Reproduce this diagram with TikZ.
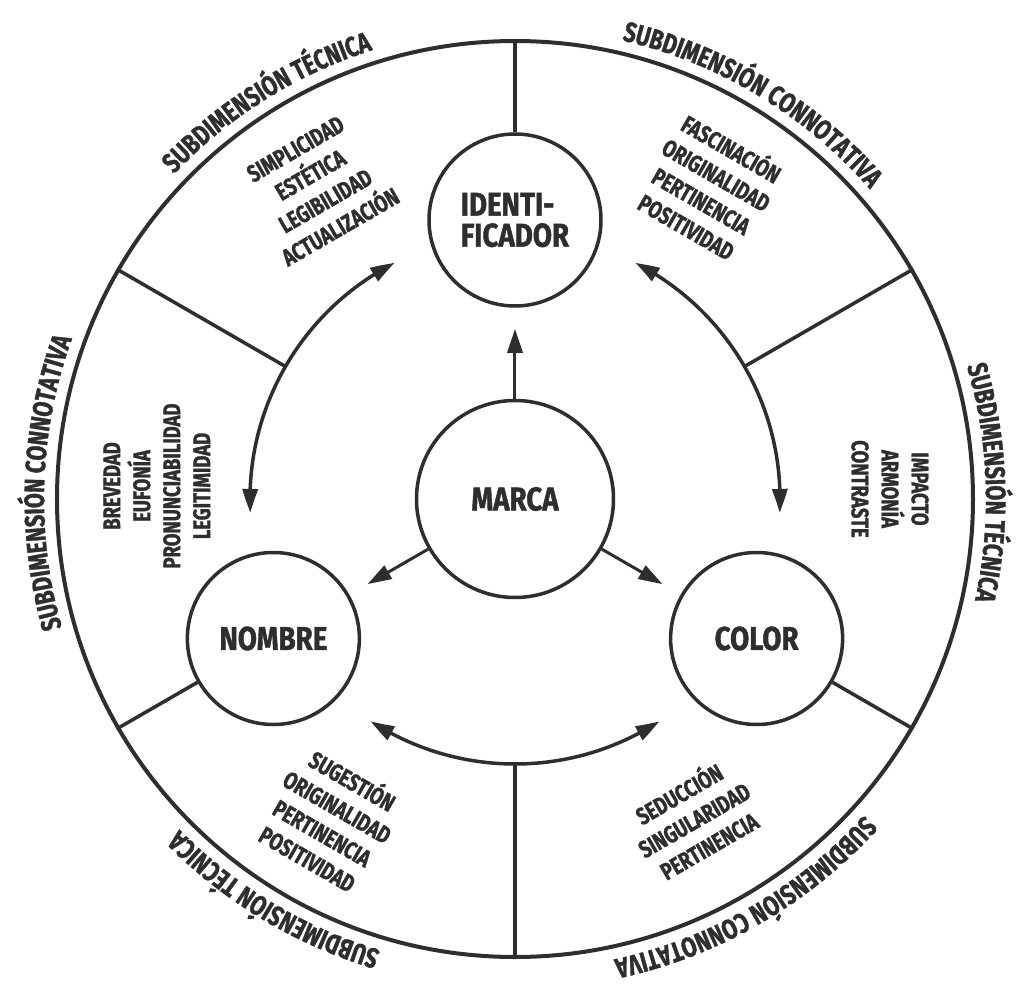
\documentclass[tikz,border=0pt]{standalone}
\usepackage{fontspec}
\usepackage{tikz}
\usetikzlibrary{arrows.meta,bending,decorations.text}
\newfontfamily\labelfont{Fira Sans}[FakeStretch=0.77, BoldFeatures={FakeBold=1.2}]
\newfontfamily\hubfamily{Fira Sans}[FakeStretch=0.84, BoldFeatures={FakeBold=1.2}]
\definecolor{ink}{HTML}{2E2E2E}
\newcommand\hubfont{\hubfamily\bfseries\fontsize{33}{32}\selectfont}
\newcommand\listfont{\labelfont\bfseries\fontsize{24}{30}\selectfont}
\newcommand\rimfont{\labelfont\bfseries\fontsize{28}{30}\selectfont}

\begin{document}
\begin{tikzpicture}[x=1pt, y=1pt, ink, color=ink,
  hub/.style={draw, circle, line width=3.5pt, inner sep=0pt, font=\hubfont, text=ink},
  part/.style={hub, minimum size=172pt},
  lst/.style={align=center, inner sep=0pt, font=\listfont, text=ink},
  conn/.style={line width=3pt, -{Triangle[length=24pt, width=15pt]}, shorten >=21pt},
  swing/.style={line width=3.5pt, {Triangle[length=24pt, width=15pt, bend]}-{Triangle[length=24pt, width=15pt, bend]}},
  rimtext/.style={decorate, decoration={text along path, text align=center,
                  text={|\rimfont\color{ink}|#1}}}]
  \useasboundingbox (-515,-484) rectangle (505,499);

  % rings
  \node[draw, circle, line width=4pt, minimum size=916pt] (rim) at (0,0) {};
  \node[circle, minimum size=530pt, inner sep=0pt] (track) at (0,0) {};

  % main nodes
  \node[hub, minimum size=197pt] (marca) at (0,0) {MARCA};
  \node[part, align=left] (ident) at (90:279) {IDENTI-\\[-1pt]FICADOR};
  \node[part] (nombre) at (210:279) {NOMBRE};
  \node[part] (color) at (330:279) {COLOR};

  % dividers
  \draw[line width=3.5pt] (ident.north) -- (rim.90);
  \draw[line width=3.5pt] (nombre.210) -- (rim.210);
  \draw[line width=3.5pt] (color.330) -- (rim.330);
  \draw[line width=3.5pt] (track.30) -- (rim.30);
  \draw[line width=3.5pt] (track.150) -- (rim.150);
  \draw[line width=3.5pt] (track.270) -- (rim.270);

  % arrows out of the brand
  \draw[conn] (marca) -- (ident);
  \draw[conn] (marca) -- (nombre);
  \draw[conn] (marca) -- (color);

  % arcs between the parts
  \coordinate (a1) at (117:265);
  \coordinate (a2) at (-3:265);
  \coordinate (a3) at (237:265);
  \draw[swing] (a1) arc[start angle=117, end angle=183, radius=265];
  \draw[swing] (a2) arc[start angle=-3, end angle=63, radius=265];
  \draw[swing] (a3) arc[start angle=237, end angle=303, radius=265];

  % criteria
  \node[lst, rotate=30] (idtec) at (-197,311) {SIMPLICIDAD\\ESTÉTICA\\LEGIBILIDAD\\ACTUALIZACIÓN};
  \node[lst, rotate=-30] (idcon) at (195,313) {FASCINACIÓN\\ORIGINALIDAD\\PERTINENCIA\\POSITIVIDAD};
  \node[lst, rotate=-90] (coltec) at (375,10) {IMPACTO\\ARMONÍA\\CONTRASTE};
  \node[lst, rotate=30] (colcon) at (178,-319) {SEDUCCIÓN\\SINGULARIDAD\\PERTINENCIA};
  \node[lst, rotate=-30] (nomtec) at (-184,-319) {SUGESTIÓN\\ORIGINALIDAD\\PERTINENCIA\\POSITIVIDAD};
  \node[lst, rotate=90] (nomcon) at (-358,13) {BREVEDAD\\EUFONÍA\\PRONUNCIABILIDAD\\LEGITIMIDAD};

  % subdimensions round the rim
  \path[rimtext={SUBDIMENSIÓN TÉCNICA}] (152:471) arc[start angle=152, end angle=92, radius=471];
  \path[rimtext={SUBDIMENSIÓN CONNOTATIVA}] (89:471) arc[start angle=89, end angle=29, radius=471];
  \path[rimtext={SUBDIMENSIÓN TÉCNICA}] (32:471) arc[start angle=32, end angle=-28, radius=471];
  \path[rimtext={SUBDIMENSIÓN CONNOTATIVA}] (-30:471) arc[start angle=-30, end angle=-90, radius=471];
  \path[rimtext={SUBDIMENSIÓN TÉCNICA}] (-91:471) arc[start angle=-91, end angle=-151, radius=471];
  \path[rimtext={SUBDIMENSIÓN CONNOTATIVA}] (-152:471) arc[start angle=-152, end angle=-212, radius=471];
\end{tikzpicture}
\end{document}
